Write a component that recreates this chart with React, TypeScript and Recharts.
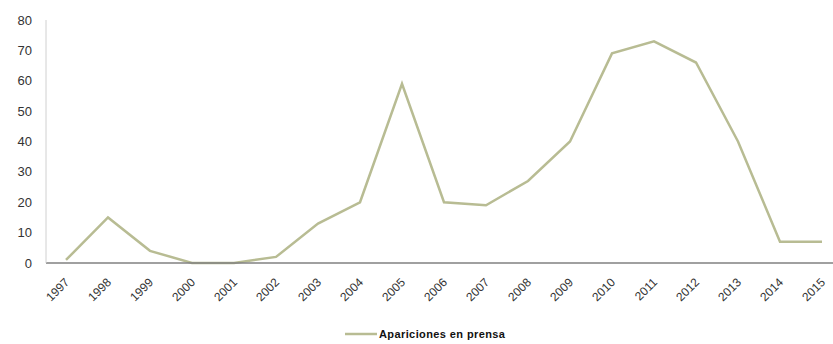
import { LineChart, Line, XAxis, YAxis, Legend } from "recharts";

const years = [
  "1997", "1998", "1999", "2000", "2001", "2002", "2003", "2004", "2005", "2006",
  "2007", "2008", "2009", "2010", "2011", "2012", "2013", "2014", "2015",
];
const apariciones = [1, 15, 4, 0, 0, 2, 13, 20, 59, 20, 19, 27, 40, 69, 73, 66, 40, 7, 7];
const yTicks = [0, 10, 20, 30, 40, 50, 60, 70, 80];

const data = years.map((year, i) => ({ year, value: apariciones[i] }));

const LINE_COLOR = "#b8bc93";
const FONT = "'Liberation Sans', Arial, sans-serif";

interface YearTickProps {
  x?: number;
  y?: number;
  payload?: { value: string };
}

function YearTick({ x = 0, y = 0, payload }: YearTickProps) {
  return (
    <text
      x={x + 4}
      y={y + 18}
      transform={`rotate(-45 ${x + 4} ${y + 18})`}
      textAnchor="end"
      fill="#333"
      fontSize={12}
      fontFamily={FONT}
    >
      {payload?.value}
    </text>
  );
}

function LegendContent() {
  return (
    <svg width={833} height={22}>
      <line x1={345} x2={377} y1={12} y2={12} stroke={LINE_COLOR} strokeWidth={2.5} />
      <text
        x={379}
        y={16}
        fontSize={11}
        fontWeight="bold"
        fontFamily={FONT}
        fill="#111"
        letterSpacing={0.4}
      >
        Apariciones en prensa
      </text>
    </svg>
  );
}

export default function App() {
  return (
    <div style={{ position: "absolute", left: 0, top: 0, background: "#fff" }}>
      <LineChart
        width={833}
        height={344}
        data={data}
        margin={{ top: 20, right: 0, bottom: 0, left: 0 }}
      >
        <XAxis
          dataKey="year"
          interval={0}
          tickLine={false}
          tickSize={0}
          axisLine={{ stroke: "#808080", strokeWidth: 1.5 }}
          padding={{ left: 20, right: 11 }}
          tick={<YearTick />}
          height={59}
        />
        <YAxis
          domain={[0, 80]}
          ticks={yTicks}
          width={46}
          tickLine={false}
          tickSize={0}
          tickMargin={14}
          axisLine={{ stroke: "#d0d0d0" }}
          tick={{ fill: "#333", fontSize: 13, fontFamily: FONT }}
        />
        <Legend verticalAlign="bottom" height={22} content={<LegendContent />} />
        <Line
          type="linear"
          dataKey="value"
          stroke={LINE_COLOR}
          strokeWidth={2.5}
          dot={false}
          isAnimationActive={false}
        />
      </LineChart>
    </div>
  );
}
